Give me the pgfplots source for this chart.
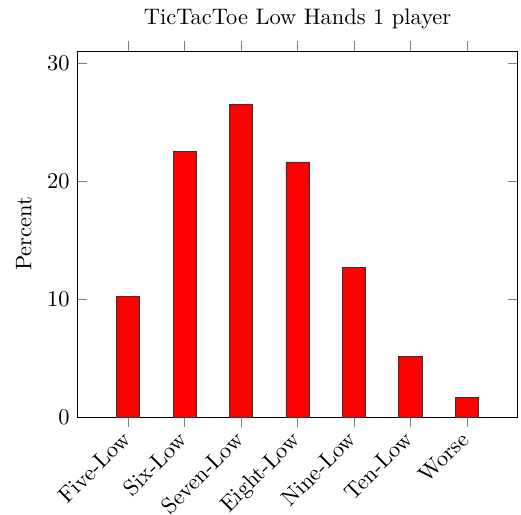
\documentclass[border=0pt]{standalone}
\usepackage{pgfplots}
\pgfplotsset{compat=1.18}
\begin{document}
\begin{tikzpicture}
\begin{axis}[
  name=ax,
  scale only axis,
  width=196pt, height=163pt,
  ybar, bar width=0.41,
  xmin=-0.9, xmax=6.9,
  ymin=0, ymax=31,
  xtick=data,
  xticklabels={Five-Low,Six-Low,Seven-Low,Eight-Low,Nine-Low,Ten-Low,Worse},
  x tick label style={xshift=-3.4pt, yshift=3.4pt, rotate=45, anchor=north east},
  xtick align=outside,
  ytick={0,10,20,30},
  ylabel={Percent},
  title={TicTacToe Low Hands 1 player},
]
\addplot[fill=red, draw=black!80] coordinates {
(0,10.2) (1,22.5) (2,26.5) (3,21.6) (4,12.7) (5,5.15) (6,1.66)
};
\end{axis}
\pgfresetboundingbox
\path ([xshift=-34.5pt,yshift=-43.5pt]ax.south west) rectangle ([xshift=1.5pt,yshift=22.7pt]ax.north east);
\end{tikzpicture}
\end{document}
